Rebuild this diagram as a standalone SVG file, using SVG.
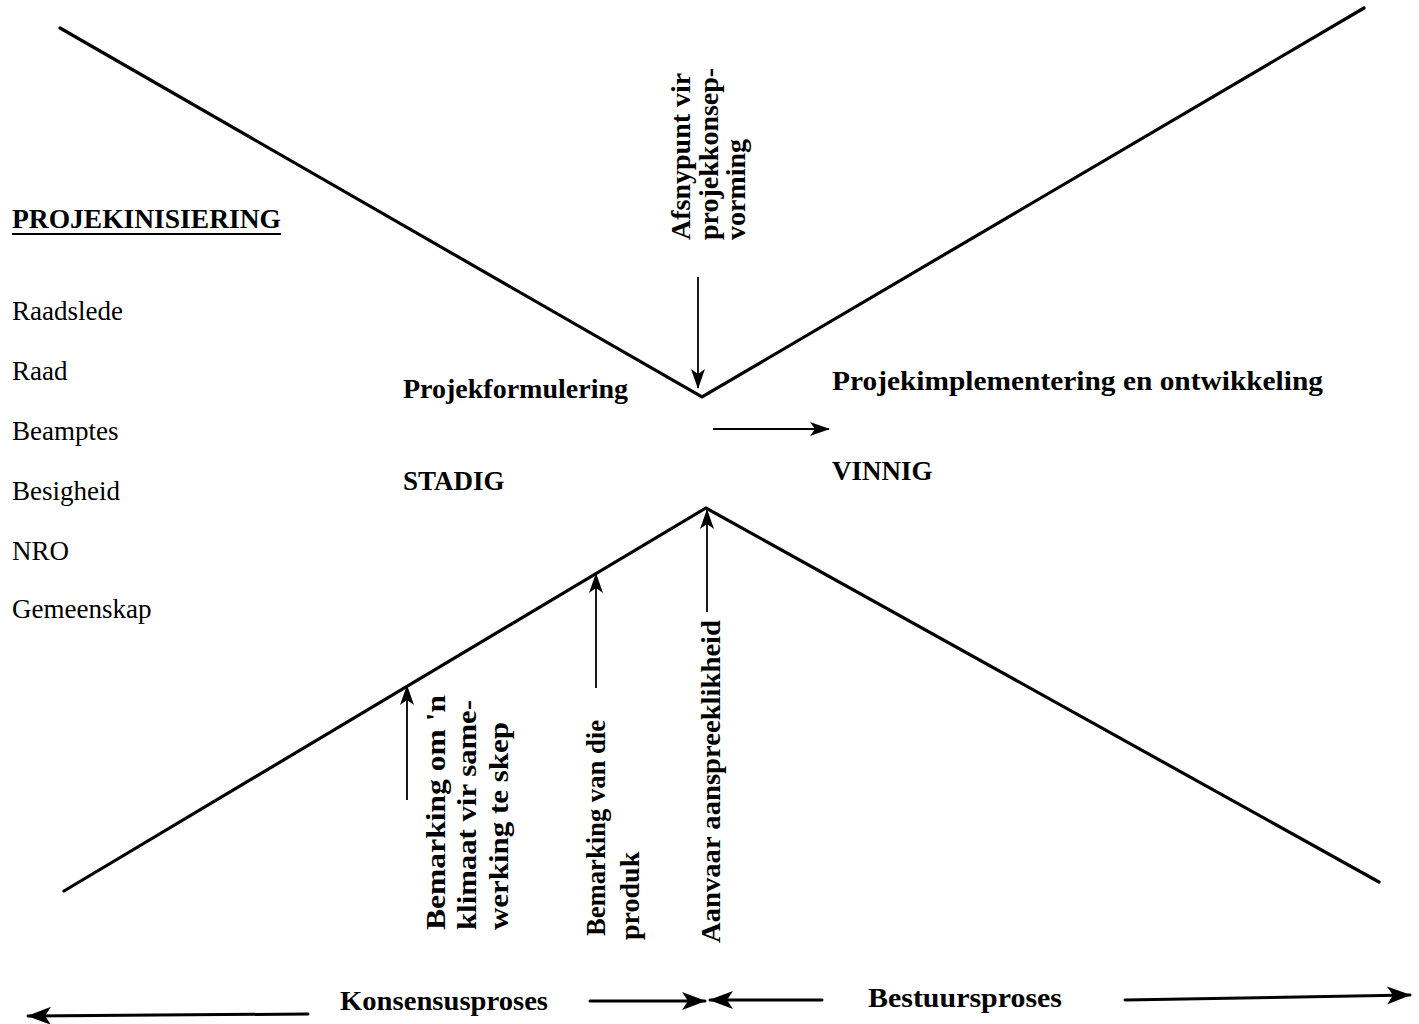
<svg xmlns="http://www.w3.org/2000/svg" width="1419" height="1024" viewBox="0 0 1419 1024">
<style>
text{font-family:"Liberation Serif","Times New Roman",serif;fill:#000}
.b{font-weight:bold}
.r{font-weight:normal}
.s{font-size:27px}
.v{font-size:28px;font-weight:bold}
.main{stroke:#000;stroke-width:3.2;fill:none;stroke-linecap:round}
.arr{stroke:#000;stroke-width:1.8;fill:none}
.barr{stroke:#000;stroke-width:3;fill:none;stroke-linecap:round}
</style>
<defs>
<marker id="ah" viewBox="0 0 20 14" refX="19" refY="7" markerWidth="20" markerHeight="14" orient="auto" markerUnits="userSpaceOnUse"><path d="M0,0 L20,7 L0,14 L5,7 z" fill="#000"/></marker>
<marker id="bh" viewBox="0 0 24 18" refX="23" refY="9" markerWidth="24" markerHeight="18" orient="auto" markerUnits="userSpaceOnUse"><path d="M0,0 L24,9 L0,18 L6,9 z" fill="#000"/></marker>
</defs>
<g id="funnel">
<polyline class="main" points="60,28 702,397 1364,8"/>
<polyline class="main" points="64,891 706,508 1379,882"/>
</g>
<g id="connectors">
<line class="arr" x1="698" y1="277" x2="698" y2="388" marker-end="url(#ah)"/>
<line class="arr" x1="713" y1="429" x2="829" y2="429" marker-end="url(#ah)"/>
<line class="arr" x1="407" y1="800" x2="407" y2="686" marker-end="url(#ah)"/>
<line class="arr" x1="596" y1="688" x2="596" y2="574" marker-end="url(#ah)"/>
<line class="arr" x1="707" y1="612" x2="707" y2="510" marker-end="url(#ah)"/>
<line class="barr" x1="308" y1="1014" x2="28" y2="1016" marker-end="url(#bh)"/>
<line class="barr" x1="590" y1="1001" x2="705" y2="1001" marker-end="url(#bh)"/>
<line class="barr" x1="822" y1="1000" x2="710" y2="1000" marker-end="url(#bh)"/>
<line class="barr" x1="1125" y1="1000" x2="1410" y2="995" marker-end="url(#bh)"/>
</g>
<g id="projekinisiering">
<text class="b s" x="12" y="228" textLength="269" lengthAdjust="spacingAndGlyphs">PROJEKINISIERING</text>
<line x1="12" y1="234" x2="281" y2="234" stroke="#000" stroke-width="2"/>
</g>
<g id="stakeholders">
<text class="r s" x="12" y="320">Raadslede</text>
<text class="r s" x="12" y="380">Raad</text>
<text class="r s" x="12" y="440">Beamptes</text>
<text class="r s" x="12" y="500">Besigheid</text>
<text class="r s" x="12" y="560">NRO</text>
<text class="r s" x="12" y="618">Gemeenskap</text>
</g>
<g id="projekformulering">
<text class="b s" x="403" y="398" textLength="225" lengthAdjust="spacingAndGlyphs">Projekformulering</text>
<text class="b s" x="403" y="490">STADIG</text>
</g>
<g id="projekimplementering">
<text class="b s" x="832" y="390" textLength="491" lengthAdjust="spacingAndGlyphs">Projekimplementering en ontwikkeling</text>
<text class="b s" x="832" y="480">VINNIG</text>
</g>
<g id="afsnypunt">
<text class="v" transform="translate(690,240) rotate(-90)">Afsnypunt vir</text>
<text class="v" transform="translate(718,240) rotate(-90)">projekkonsep-</text>
<text class="v" transform="translate(745,240) rotate(-90)">vorming</text>
</g>
<g id="bemarking-klimaat">
<text class="v" transform="translate(445,930) rotate(-90)" textLength="235" lengthAdjust="spacingAndGlyphs">Bemarking om 'n</text>
<text class="v" transform="translate(476,930) rotate(-90)" textLength="230" lengthAdjust="spacingAndGlyphs">klimaat vir same-</text>
<text class="v" transform="translate(508,930) rotate(-90)" textLength="208" lengthAdjust="spacingAndGlyphs">werking te skep</text>
</g>
<g id="bemarking-produk">
<text class="v" transform="translate(605,936) rotate(-90)" textLength="216" lengthAdjust="spacingAndGlyphs">Bemarking van die</text>
<text class="v" transform="translate(639,940) rotate(-90)">produk</text>
</g>
<g id="aanvaar">
<text class="v" transform="translate(720,943) rotate(-90)" textLength="323" lengthAdjust="spacingAndGlyphs">Aanvaar aanspreeklikheid</text>
</g>
<g id="prosesse">
<text class="b s" x="340" y="1010" textLength="208" lengthAdjust="spacingAndGlyphs">Konsensusproses</text>
<text class="b s" x="868" y="1007" textLength="194" lengthAdjust="spacingAndGlyphs">Bestuursproses</text>
</g>
</svg>
